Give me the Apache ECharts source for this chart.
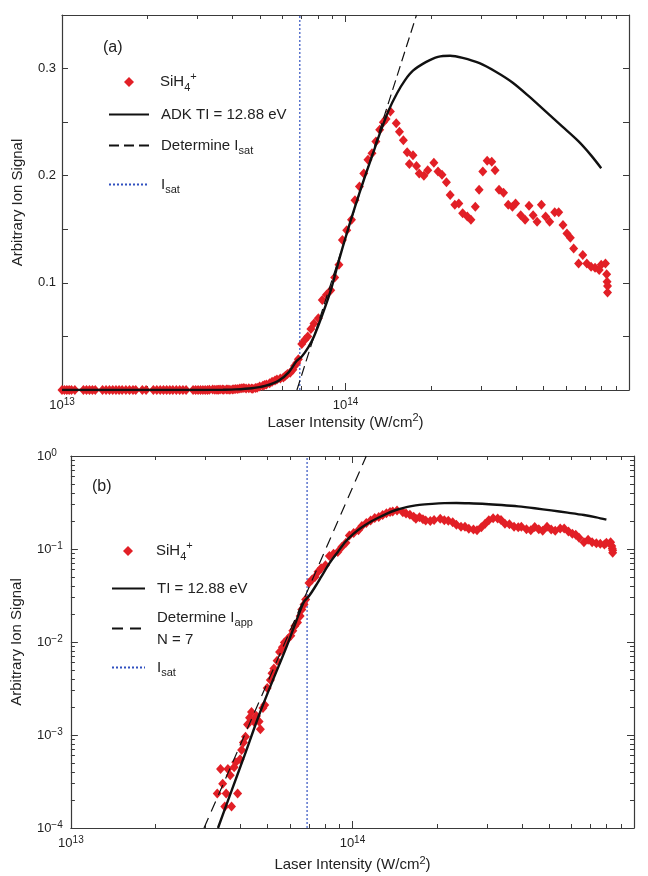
<!DOCTYPE html>
<html>
<head>
<meta charset="utf-8">
<title>SiH4+ ion signal vs laser intensity</title>
<script src="https://cdn.jsdelivr.net/npm/echarts@6/dist/echarts.min.js"></script>
<style>
  html, body { margin: 0; padding: 0; background: #fff; }
  #chart { width: 648px; height: 876px; }
</style>
</head>
<body>
<div id="chart"></div>
<script>
// measured SiH4+ signal: [intensity (W/cm2), signal]
var sih4Points = [
  [1.00e13, 0], [1.02e13, 0], [1.04e13, 0], [1.06e13, 0], [1.08e13, 0], [1.11e13, 0],
  [1.19e13, 0], [1.22e13, 0], [1.25e13, 0], [1.28e13, 0], [1.31e13, 0],
  [1.39e13, 0], [1.43e13, 0], [1.47e13, 0], [1.51e13, 0], [1.55e13, 0], [1.59e13, 0],
  [1.63e13, 0], [1.68e13, 0], [1.73e13, 0], [1.78e13, 0], [1.82e13, 0],
  [1.92e13, 0], [1.98e13, 0],
  [2.10e13, 0], [2.16e13, 0], [2.22e13, 0], [2.28e13, 0], [2.34e13, 0], [2.40e13, 0],
  [2.46e13, 0], [2.53e13, 0], [2.60e13, 0], [2.67e13, 0], [2.74e13, 0],
  [2.90e13, 0], [2.96e13, 0], [3.02e13, 0], [3.08e13, 0], [3.14e13, 0], [3.20e13, 0], [3.26e13, 0],
  [3.31e13, 2.35e-4], [3.40e13, 4.3e-4], [3.46e13, 3.0e-4], [3.52e13, 1.7e-4], [3.56e13, 2.35e-4],
  [3.61e13, 4.3e-4], [3.68e13, 3.7e-4], [3.72e13, 1.7e-4], [3.80e13, 4.5e-4], [3.85e13, 5.1e-4],
  [3.91e13, 2.35e-4], [3.99e13, 5.5e-4], [4.04e13, 6.9e-4], [4.10e13, 8.3e-4], [4.17e13, 9.6e-4],
  [4.24e13, 1.3e-3], [4.31e13, 1.53e-3], [4.38e13, 1.77e-3], [4.46e13, 1.4e-3], [4.56e13, 1.6e-3],
  [4.66e13, 1.4e-3], [4.71e13, 1.15e-3], [4.81e13, 1.95e-3], [4.88e13, 2.1e-3], [4.98e13, 3.2e-3],
  [5.11e13, 3.9e-3], [5.18e13, 4.6e-3], [5.26e13, 5.2e-3], [5.40e13, 6.3e-3], [5.51e13, 7.8e-3],
  [5.64e13, 8.8e-3], [5.73e13, 9.9e-3], [5.89e13, 1.08e-2], [6.04e13, 1.17e-2], [6.14e13, 1.32e-2],
  [6.24e13, 1.49e-2], [6.38e13, 1.62e-2], [6.52e13, 1.90e-2], [6.61e13, 2.24e-2], [6.73e13, 2.53e-2],
  [6.82e13, 2.86e-2],
  [7.01e13, 0.043], [7.19e13, 0.047], [7.36e13, 0.050], [7.55e13, 0.057], [7.74e13, 0.062],
  [8.02e13, 0.067], [8.28e13, 0.084], [8.57e13, 0.089], [8.87e13, 0.093], [9.16e13, 0.105],
  [9.48e13, 0.117], [9.75e13, 0.140],
  [1.01e14, 0.149], [1.05e14, 0.159], [1.08e14, 0.177], [1.12e14, 0.190], [1.16e14, 0.202],
  [1.20e14, 0.215], [1.24e14, 0.221], [1.28e14, 0.232], [1.32e14, 0.243], [1.36e14, 0.250],
  [1.39e14, 0.253], [1.44e14, 0.260], [1.51e14, 0.249], [1.55e14, 0.241], [1.60e14, 0.233],
  [1.65e14, 0.222], [1.68e14, 0.211], [1.73e14, 0.219], [1.78e14, 0.209], [1.82e14, 0.202],
  [1.89e14, 0.200], [1.95e14, 0.205], [2.05e14, 0.212], [2.12e14, 0.204], [2.19e14, 0.201],
  [2.27e14, 0.194], [2.34e14, 0.182], [2.43e14, 0.173], [2.51e14, 0.174], [2.59e14, 0.165],
  [2.69e14, 0.162], [2.77e14, 0.159], [2.87e14, 0.171], [2.96e14, 0.187], [3.05e14, 0.204],
  [3.16e14, 0.214], [3.28e14, 0.213], [3.37e14, 0.205], [3.48e14, 0.187], [3.61e14, 0.184],
  [3.75e14, 0.173], [3.88e14, 0.171], [3.98e14, 0.174], [4.15e14, 0.163], [4.30e14, 0.159],
  [4.44e14, 0.172], [4.59e14, 0.163], [4.74e14, 0.157], [4.91e14, 0.173], [5.08e14, 0.162],
  [5.25e14, 0.157], [5.47e14, 0.166], [5.65e14, 0.166], [5.85e14, 0.154], [6.04e14, 0.146],
  [6.21e14, 0.142], [6.38e14, 0.132], [6.64e14, 0.118], [6.87e14, 0.126], [7.10e14, 0.118],
  [7.35e14, 0.115], [7.59e14, 0.114], [7.85e14, 0.112], [7.98e14, 0.117], [8.26e14, 0.118],
  [8.34e14, 0.108], [8.37e14, 0.101], [8.40e14, 0.097], [8.40e14, 0.091]
];

// ADK calculation, TI = 12.88 eV
var adkCurve = [
  [1.0e13, 0], [2.0e13, 0], [3.0e13, 0.00004], [3.33e13, 1.0e-4], [3.7e13, 2.4e-4],
  [4.1e13, 5.6e-4], [4.67e13, 1.67e-3], [5.2e13, 3.8e-3], [5.8e13, 8.5e-3], [6.3e13, 0.0165],
  [6.72e13, 0.027], [7.0e13, 0.031], [7.4e13, 0.040], [7.74e13, 0.050], [8.28e13, 0.070],
  [8.87e13, 0.093], [9.48e13, 0.121], [1.01e14, 0.146], [1.08e14, 0.171], [1.16e14, 0.196],
  [1.24e14, 0.218], [1.32e14, 0.239], [1.42e14, 0.261], [1.52e14, 0.277], [1.62e14, 0.289],
  [1.73e14, 0.298], [1.92e14, 0.306], [2.12e14, 0.311], [2.34e14, 0.312], [2.59e14, 0.310],
  [2.97e14, 0.305], [3.39e14, 0.297], [3.88e14, 0.287], [4.44e14, 0.274], [5.08e14, 0.260],
  [5.81e14, 0.246], [6.64e14, 0.232], [7.35e14, 0.219], [7.98e14, 0.207]
];

var isatFitA = [[6.74e13, 0], [1.78e14, 0.35]];   // linear extrapolation (a)
var iappFitB = [[2.97e13, 1e-4], [1.12e14, 1]];   // slope N = 7 (b)
var isatValue = 6.9e13;

var xMajorTicks = [1e13, 1e14, 1e15];
var xMinorTicks = [2e13, 3e13, 4e13, 5e13, 6e13, 7e13, 8e13, 9e13,
                   2e14, 3e14, 4e14, 5e14, 6e14, 7e14, 8e14, 9e14];
var yTicksA = [0, 0.05, 0.1, 0.15, 0.2, 0.25, 0.3, 0.35];
var yLabelsA = [0.1, 0.2, 0.3];
var yMajorTicksB = [1e-4, 1e-3, 1e-2, 1e-1, 1];
var yMinorTicksB = [2e-4, 3e-4, 4e-4, 5e-4, 6e-4, 7e-4, 8e-4, 9e-4,
                    2e-3, 3e-3, 4e-3, 5e-3, 6e-3, 7e-3, 8e-3, 9e-3,
                    2e-2, 3e-2, 4e-2, 5e-2, 6e-2, 7e-2, 8e-2, 9e-2,
                    0.2, 0.3, 0.4, 0.5, 0.6, 0.7, 0.8, 0.9];

var FONT = '"Liberation Sans", Arial, Helvetica, sans-serif';
var INK = '#222';
var AXIS = '#3a3a3a';
var RED = '#e21f26';
var BLUE = '#3050c0';

var powRich = {
  b: { fontSize: 13, lineHeight: 16, fontFamily: FONT, color: INK },
  s: { fontSize: 10, lineHeight: 10, verticalAlign: 'top', fontFamily: FONT, color: INK }
};
function powLabel(v) {
  var e = Math.round(Math.log10(v));
  return '{b|10}{s|' + (e < 0 ? '\u2212' + (-e) : e) + '}';
}

var legendRich = {
  t: { fontSize: 15, lineHeight: 22, fontFamily: FONT, color: INK },
  sub: { fontSize: 11, lineHeight: 11, verticalAlign: 'bottom', fontFamily: FONT, color: INK },
  sup: { fontSize: 11, lineHeight: 11, verticalAlign: 'top', fontFamily: FONT, color: INK }
};
var legendText = {
  'SiH4+': '{t|SiH}{sub|4}{sup|+}',
  'ADK TI = 12.88 eV': '{t|ADK TI = 12.88 eV}',
  'Determine Isat': '{t|Determine I}{sub|sat}',
  'Isat': '{t|I}{sub|sat}',
  'TI = 12.88 eV': '{t|TI = 12.88 eV}',
  'Determine Iapp N = 7': '{t|Determine I}{sub|app}\n{t|N = 7}'
};

function legendItem(name, left, top, w, pad, isLine) {
  var item = {
    data: [name], left: left, top: top, padding: 0, orient: 'vertical',
    itemWidth: w, itemHeight: 10, selectedMode: false, symbolKeepAspect: true,
    formatter: function (n) { return legendText[n]; },
    textStyle: { fontFamily: FONT, fontSize: 15, color: INK, padding: [0, 0, 0, pad], rich: legendRich }
  };
  // line entries: keep only the stroke, hide the centre symbol
  if (isLine) item.itemStyle = { opacity: 0 };
  return item;
}

function xPart(grid, pos, ticks, len, main) {
  return {
    type: 'log', logBase: 10, gridIndex: grid, position: pos, min: 1e13, max: 1e15,
    axisLine: { show: main, onZero: false, lineStyle: { color: AXIS, width: 1.2 } },
    axisTick: { show: true, inside: true, length: len, customValues: ticks, lineStyle: { color: AXIS, width: 1 } },
    axisLabel: (main && pos === 'bottom') ? {
      customValues: xMajorTicks, margin: 7, formatter: powLabel, rich: powRich
    } : { show: false },
    splitLine: { show: false }
  };
}
function yPartB(pos, ticks, len, main) {
  return {
    type: 'log', logBase: 10, gridIndex: 1, position: pos, min: 1e-4, max: 1,
    axisLine: { show: main, onZero: false, lineStyle: { color: AXIS, width: 1.2 } },
    axisTick: { show: true, inside: true, length: len, customValues: ticks, lineStyle: { color: AXIS, width: 1 } },
    axisLabel: (main && pos === 'left') ? {
      customValues: yMajorTicksB, margin: 34, align: 'left', formatter: powLabel, rich: powRich
    } : { show: false },
    splitLine: { show: false }
  };
}

var xAxes = [
  xPart(0, 'bottom', xMajorTicks, 7, true),
  xPart(0, 'bottom', xMinorTicks, 4, false),
  xPart(0, 'top', xMajorTicks, 7, true),
  xPart(0, 'top', xMinorTicks, 4, false),
  xPart(1, 'bottom', xMajorTicks, 7, true),
  xPart(1, 'bottom', xMinorTicks, 4, false),
  xPart(1, 'top', xMajorTicks, 7, true),
  xPart(1, 'top', xMinorTicks, 4, false)
];
var xName = {
  name: 'Laser Intensity (W/cm{sup|2})', nameLocation: 'middle',
  nameTextStyle: { fontFamily: FONT, fontSize: 15, lineHeight: 20, color: INK,
    rich: { sup: { fontSize: 11, lineHeight: 11, verticalAlign: 'top', fontFamily: FONT, color: INK } } }
};
Object.assign(xAxes[0], xName, { nameGap: 21 });
Object.assign(xAxes[4], xName, { nameGap: 27 });

var yName = {
  name: 'Arbitrary Ion Signal', nameLocation: 'middle',
  nameTextStyle: { fontFamily: FONT, fontSize: 15, lineHeight: 18, color: INK }
};

var yAxes = [
  Object.assign({
    type: 'value', gridIndex: 0, position: 'left', min: 0, max: 0.35,
    axisLine: { show: true, onZero: false, lineStyle: { color: AXIS, width: 1.2 } },
    axisTick: { show: true, inside: true, length: 6, customValues: yTicksA, lineStyle: { color: AXIS, width: 1 } },
    axisLabel: { customValues: yLabelsA, margin: 6, fontFamily: FONT, fontSize: 13, color: INK,
      formatter: function (v) { return v.toFixed(1); } },
    splitLine: { show: false }
  }, yName, { nameGap: 28 }),
  {
    type: 'value', gridIndex: 0, position: 'right', min: 0, max: 0.35,
    axisLine: { show: true, onZero: false, lineStyle: { color: AXIS, width: 1.2 } },
    axisTick: { show: true, inside: true, length: 6, customValues: yTicksA, lineStyle: { color: AXIS, width: 1 } },
    axisLabel: { show: false }, splitLine: { show: false }
  },
  Object.assign(yPartB('left', yMajorTicksB, 7, true), yName, { nameGap: 40 }),
  yPartB('left', yMinorTicksB, 4, false),
  yPartB('right', yMajorTicksB, 7, true),
  yPartB('right', yMinorTicksB, 4, false)
];

function aboveFloor(p) { return p[1] >= 1e-4; }

var option = {
  animation: false,
  backgroundColor: '#fff',
  textStyle: { fontFamily: FONT },
  grid: [
    { left: 62, top: 15, width: 567, height: 375 },
    { left: 66, top: 456, width: 568, height: 375 }
  ],
  xAxis: xAxes,
  yAxis: yAxes,
  legend: [
    legendItem('SiH4+', 124, 71, 10, 21, false),
    legendItem('ADK TI = 12.88 eV', 108, 107, 40, 7, true),
    legendItem('Determine Isat', 108, 138, 40, 7, true),
    legendItem('Isat', 108, 177, 40, 7, true),
    legendItem('SiH4+', 123, 540, 10, 18, false),
    legendItem('TI = 12.88 eV', 111, 581, 33, 7, true),
    legendItem('Determine Iapp N = 7', 111, 610, 33, 7, true),
    legendItem('Isat', 111, 660, 33, 7, true)
  ],
  graphic: [
    { type: 'text', left: 103, top: 40, style: { text: '(a)', fontFamily: FONT, fontSize: 16, fill: INK } },
    { type: 'text', left: 92, top: 479, style: { text: '(b)', fontFamily: FONT, fontSize: 16, fill: INK } }
  ],
  series: [
    { name: 'Isat', type: 'line', xAxisIndex: 0, yAxisIndex: 0, symbol: 'none', z: 1,
      data: [[isatValue, 0], [isatValue, 0.35]],
      lineStyle: { color: BLUE, width: 1.2, type: [2, 2] }, itemStyle: { color: BLUE } },
    { name: 'SiH4+', type: 'scatter', xAxisIndex: 0, yAxisIndex: 0, z: 2,
      symbol: 'diamond', symbolSize: [9, 10], data: sih4Points, itemStyle: { color: RED, opacity: 1 } },
    { name: 'ADK TI = 12.88 eV', type: 'line', xAxisIndex: 0, yAxisIndex: 0, symbol: 'none', z: 3,
      smooth: 0.3, data: adkCurve, lineStyle: { color: '#111', width: 2.4 }, itemStyle: { color: '#111' } },
    { name: 'Determine Isat', type: 'line', xAxisIndex: 0, yAxisIndex: 0, symbol: 'none', z: 4,
      data: isatFitA, lineStyle: { color: '#111', width: 1.2, type: [10, 5] }, itemStyle: { color: '#111' } },

    { name: 'Isat', type: 'line', xAxisIndex: 4, yAxisIndex: 2, symbol: 'none', z: 1,
      data: [[isatValue, 1e-4], [isatValue, 1]],
      lineStyle: { color: BLUE, width: 1.2, type: [2, 2] }, itemStyle: { color: BLUE } },
    { name: 'SiH4+', type: 'scatter', xAxisIndex: 4, yAxisIndex: 2, z: 2,
      symbol: 'diamond', symbolSize: [9, 10], data: sih4Points.filter(aboveFloor), itemStyle: { color: RED, opacity: 1 } },
    { name: 'TI = 12.88 eV', type: 'line', xAxisIndex: 4, yAxisIndex: 2, symbol: 'none', z: 3,
      smooth: 0.3, data: adkCurve.filter(aboveFloor), lineStyle: { color: '#111', width: 2.4 }, itemStyle: { color: '#111' } },
    { name: 'Determine Iapp N = 7', type: 'line', xAxisIndex: 4, yAxisIndex: 2, symbol: 'none', z: 4,
      data: iappFitB, lineStyle: { color: '#111', width: 1.2, type: [11, 7] }, itemStyle: { color: '#111' } }
  ]
};

var chart = echarts.init(document.getElementById('chart'), null, { renderer: 'canvas' });
chart.setOption(option);
</script>
</body>
</html>
